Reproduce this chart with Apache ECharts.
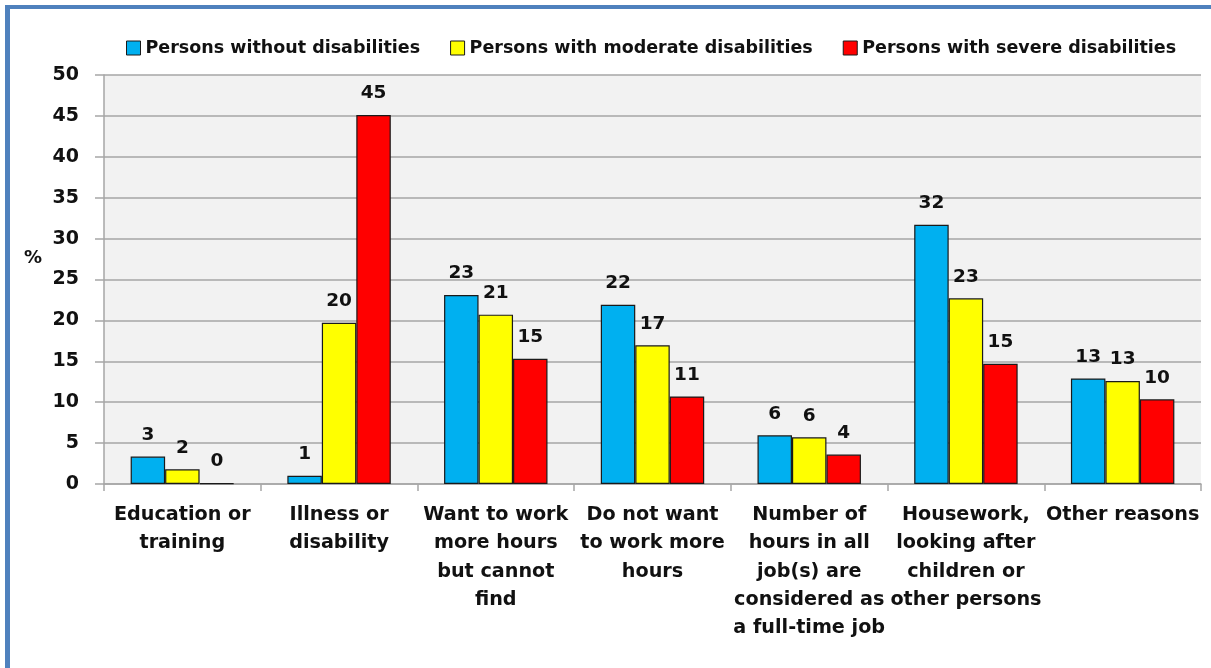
<!DOCTYPE html>
<html>
<head>
<meta charset="utf-8">
<script src="https://cdn.jsdelivr.net/npm/echarts@6/dist/echarts.min.js"></script>
<style>
  html, body { margin: 0; padding: 0; background: #ffffff; }
  #chart { position: absolute; left: 0; top: 0; width: 1211px; height: 668px; }
  #frame {
    position: absolute; left: 5px; top: 5px; right: 0; bottom: 0;
    border-left: 5px solid #4f81bd; border-top: 4px solid #4f81bd;
    pointer-events: none;
  }
</style>
</head>
<body>
<div id="chart"></div>
<div id="frame"></div>
<script>
// Reasons for working part-time, by disability status (%)
const categories = [
  'Education or\ntraining',
  'Illness or\ndisability',
  'Want to work\nmore hours\nbut cannot\nfind',
  'Do not want\nto work more\nhours',
  'Number of\nhours in all\njob(s) are\nconsidered as\na full-time job',
  'Housework,\nlooking after\nchildren or\nother persons',
  'Other reasons'
];
const seriesNames = [
  'Persons without disabilities',
  'Persons with moderate disabilities',
  'Persons with severe disabilities'
];
const withoutDisabilities = [3.35, 1.0, 23.1, 21.9, 5.95, 31.7, 12.9];
const moderateDisabilities = [1.8, 19.7, 20.7, 16.95, 5.7, 22.7, 12.6];
const severeDisabilities = [0.1, 45.1, 15.3, 10.7, 3.6, 14.7, 10.35];
const yTicks = [0, 5, 10, 15, 20, 25, 30, 35, 40, 45, 50];

const seriesColors = ['#00b0f0', '#ffff00', '#ff0000'];
const FONT = 'DejaVu Sans';

const chart = echarts.init(document.getElementById('chart'), null, { renderer: 'canvas' });

function barSeries(name, data, color) {
  return {
    name: name,
    type: 'bar',
    data: data,
    barGap: '0%',
    barCategoryGap: '34%',
    itemStyle: { color: color, borderColor: '#1a1a1a', borderWidth: 1.2 },
    label: {
      show: true,
      position: 'top',
      distance: 12,
      fontFamily: FONT,
      fontWeight: 'bold',
      fontSize: 18.5,
      color: '#111',
      formatter: p => String(Math.round(p.value))
    }
  };
}

chart.setOption({
  animation: false,
  backgroundColor: '#ffffff',
  textStyle: { fontFamily: FONT },
  legend: {
    top: 34,
    left: 121,
    itemWidth: 14,
    itemHeight: 14,
    itemGap: 30,
    icon: 'rect',
    itemStyle: { borderColor: '#1a1a1a', borderWidth: 1 },
    textStyle: { fontFamily: FONT, fontWeight: 'bold', fontSize: 17.5, color: '#111' },
    data: seriesNames
  },
  grid: {
    left: 104, right: 10, top: 75, bottom: 184,
    show: true, backgroundColor: '#f2f2f2', borderWidth: 0
  },
  xAxis: {
    type: 'category',
    data: categories,
    axisLine: { lineStyle: { color: '#a6a6a6', width: 1.5 } },
    axisTick: { show: true, length: 7, lineStyle: { color: '#a6a6a6', width: 1.5 } },
    axisLabel: {
      interval: 0,
      margin: 17,
      fontFamily: FONT,
      fontWeight: 'bold',
      fontSize: 19.2,
      lineHeight: 28.3,
      color: '#111'
    }
  },
  yAxis: {
    type: 'value',
    min: 0, max: 50, interval: 5,
    axisLine: { show: true, lineStyle: { color: '#a6a6a6', width: 1.5 } },
    axisTick: { show: true, length: 9, lineStyle: { color: '#a6a6a6', width: 1.5 } },
    splitLine: { lineStyle: { color: '#a6a6a6', width: 1.5 } },
    axisLabel: {
      margin: 25,
      fontFamily: FONT,
      fontWeight: 'bold',
      fontSize: 19,
      color: '#111',
      formatter: v => (yTicks.indexOf(v) >= 0 ? String(v) : '')
    }
  },
  graphic: [{
    type: 'text',
    left: 24,
    top: 249,
    style: { text: '%', fontFamily: FONT, fontWeight: 'bold', fontSize: 18, fill: '#111' }
  }],
  series: [
    barSeries(seriesNames[0], withoutDisabilities, seriesColors[0]),
    barSeries(seriesNames[1], moderateDisabilities, seriesColors[1]),
    barSeries(seriesNames[2], severeDisabilities, seriesColors[2])
  ]
});
</script>
</body>
</html>
